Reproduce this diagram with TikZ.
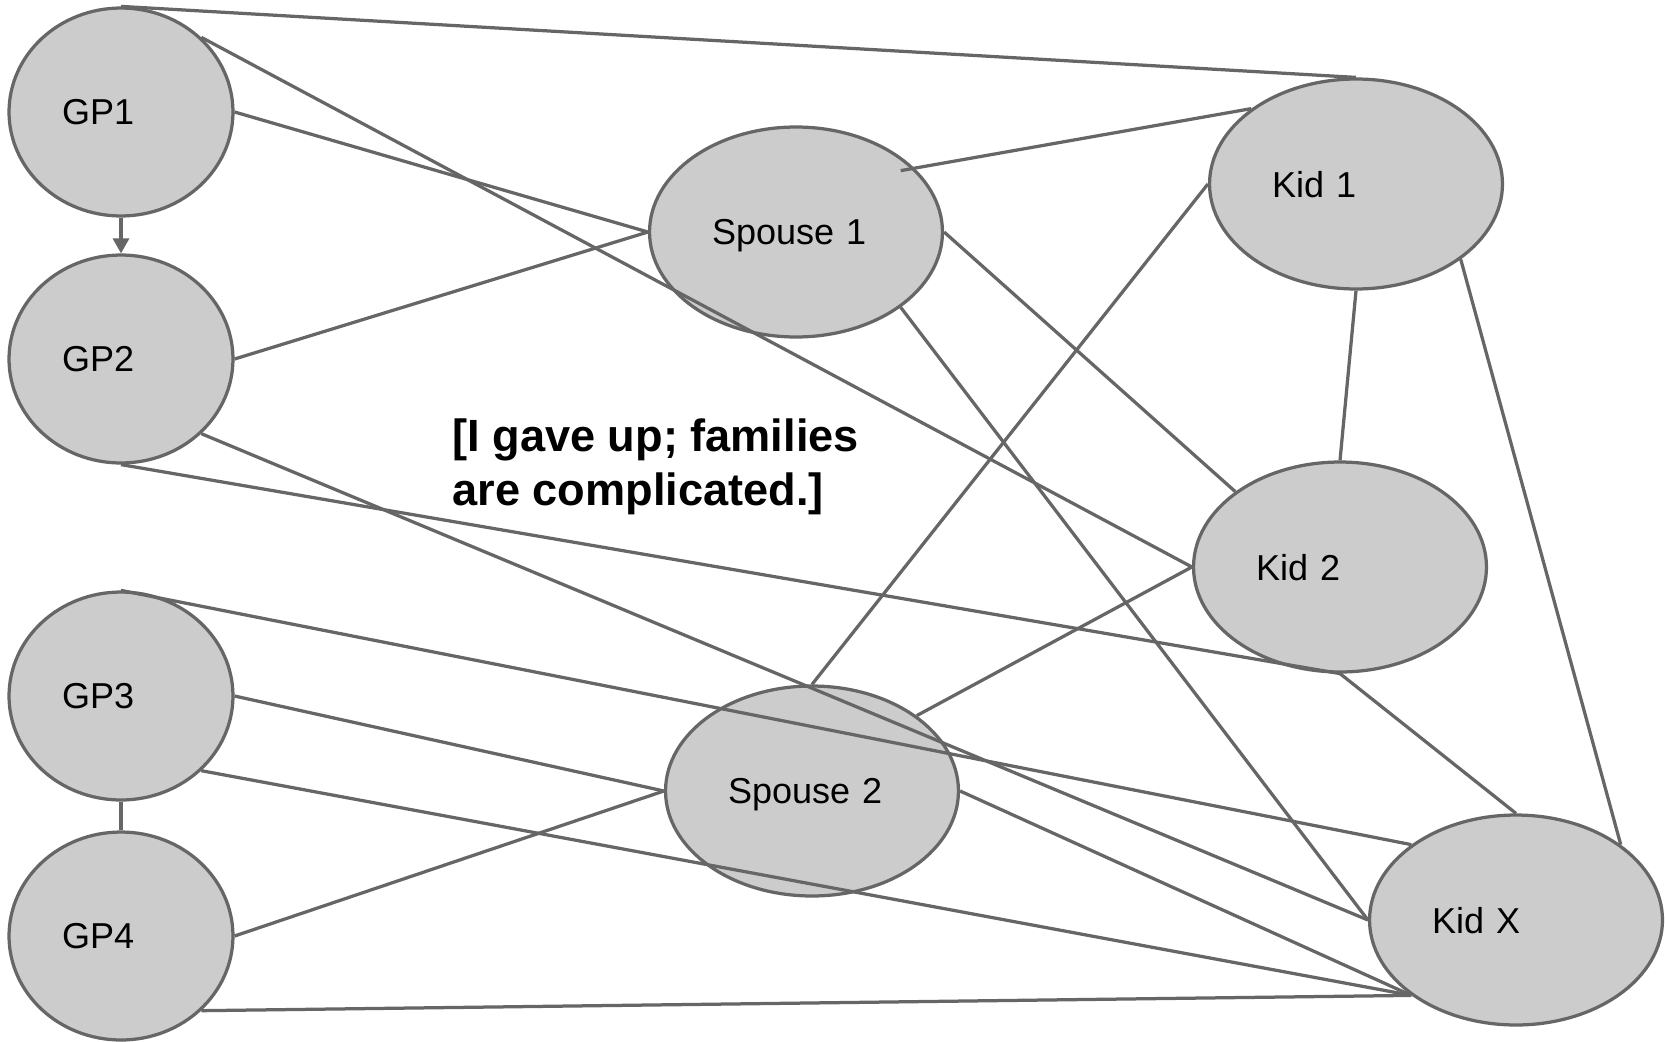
\documentclass[tikz,border=0pt]{standalone}
\usepackage{fontspec}
\setmainfont{Liberation Sans}
\usepackage{tikz}
\usetikzlibrary{shapes.geometric,arrows.meta}
\definecolor{edgegray}{HTML}{666666}
\definecolor{nodegray}{HTML}{CCCCCC}

\tikzset{
	person/.style={ellipse,draw=edgegray,fill=nodegray,line width=0.065cm,
		minimum width=5.86cm,minimum height=4.2cm,text width=3.36cm,align=left,
		text depth=0pt,font=\fontsize{20.5pt}{24pt}\selectfont},
	gp/.style={person,minimum width=4.48cm,minimum height=4.16cm,text width=2.36cm},
	link/.style={draw=edgegray,line width=0.065cm},
	note/.style={inner sep=0pt,align=left,font=\bfseries\fontsize{25.7pt}{31pt}\selectfont}
}

\begin{document}
\begin{tikzpicture}[x=0.02cm,y=-0.02cm]
		
		\useasboundingbox (0,0) rectangle (1665,1041);
		
		% grandparents
		\node[gp] (gp1) at (121,112) {GP1};
		\node[gp] (gp2) at (121,359) {GP2};
		\node[gp] (gp3) at (121,696) {GP3};
		\node[gp] (gp4) at (121,936) {GP4};
		
		% spouses and kids
		\node[person] (sp1) at (796,232) {Spouse 1};
		\node[person] (sp2) at (812,791) {Spouse 2};
		\node[person] (kid1) at (1356,184) {Kid 1};
		\node[person] (kid2) at (1340,567) {Kid 2};
		\node[person] (kidx) at (1516,920) {Kid X};
		
		\node[note,anchor=north west] (note) at (452,418) {[I gave up; families\\are complicated.]};
		
		\draw[link,-{Triangle[length=0.3cm,width=0.32cm]}] (gp1.south) -- (gp2.north);
		\draw[link] (gp3.south) -- (gp4.north);
		
		\foreach \a/\b in {gp1.north/kid1.north, gp1.north east/kid2.west,
			gp1.east/sp1.west, gp2.east/sp1.west, gp2.south east/kidx.west,
			gp2.south/kid2.south, gp3.north/kidx.north west, gp3.east/sp2.west,
			gp3.south east/kidx.south west, gp4.east/sp2.west,
			gp4.south east/kidx.south west}
		\draw[link] (\a) -- (\b);
		
		\draw[link] ([yshift=-0.28cm]sp1.north east) -- (kid1.north west);
		\foreach \a/\b in {sp1.east/kid2.north west, sp1.south east/kidx.west,
			sp2.north/kid1.west, sp2.north east/kid2.west, sp2.east/kidx.south west,
			kid1.south/kid2.north, kid1.south east/kidx.north east,
			kid2.south/kidx.north}
		\draw[link] (\a) -- (\b);
		
	\end{tikzpicture}
\end{document}
